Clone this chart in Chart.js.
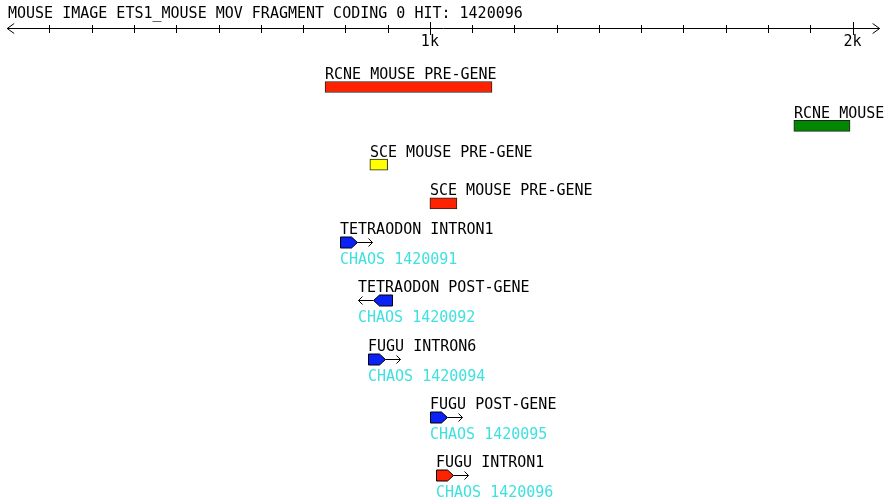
<!DOCTYPE html>
<html>
<head>
<meta charset="utf-8">
<script src="https://cdn.jsdelivr.net/npm/chart.js@4/dist/chart.umd.min.js"></script>
<style>
    body { margin: 0; background: #fff; }
    canvas { display: block; }
</style>
</head>
<body>
<canvas id="map" width="894" height="504"></canvas>
<script>
// Title of the map
const title = 'MOUSE IMAGE ETS1_MOUSE MOV FRAGMENT CODING 0 HIT: 1420096';

const featureNames = ['RCNE MOUSE PRE-GENE', 'RCNE MOUSE PRE-GENE', 'SCE MOUSE PRE-GENE', 'SCE MOUSE PRE-GENE',
    'TETRAODON INTRON1', 'TETRAODON POST-GENE', 'FUGU INTRON6', 'FUGU POST-GENE', 'FUGU INTRON1'];
const featureStarts = [752, 1861, 858, 1000, 787, 865, 854, 1000, 1014];
const featureEnds = [1147, 1994, 900, 1064, 828, 910, 894, 1040, 1055];
// 0 = plain box, 1 = forward hit, -1 = reverse hit
const featureStrands = [0, 0, 0, 0, 1, -1, 1, 1, 1];
const hitLabels = ['', '', '', '', 'CHAOS 1420091', 'CHAOS 1420092', 'CHAOS 1420094', 'CHAOS 1420095', 'CHAOS 1420096'];
const featureColors = ['#ff2200', '#008800', '#ffff00', '#ff2200', '#0a22f5', '#0a22f5', '#0a22f5', '#0a22f5', '#ff2200'];

// Ruler
const axisStart = 0;
const axisEnd = 2064;
const tickValues = [100, 200, 300, 400, 500, 600, 700, 800, 900, 1000,
    1100, 1200, 1300, 1400, 1500, 1600, 1700, 1800, 1900, 2000];
const majorTickValues = [1000, 2000];
const majorTickLabels = ['1k', '2k'];

const FONT = '15px "DejaVu Sans Mono", "Liberation Mono", monospace';
const HIT_TEXT = '#40e0e0';

// Stack the tracks: hits take an extra text line
const lanes = [];
let lane = 0;
featureNames.forEach((name, i) => {
    lanes.push(lane);
    lane += hitLabels[i] ? 3 : 2;
});

const boxIdx = featureNames.map((n, i) => i).filter(i => featureStrands[i] === 0);

const mapPlugin = {
    id: 'geneMap',
    afterDatasetsDraw(chart) {
        const ctx = chart.ctx;
        const xs = chart.scales.x;
        const ys = chart.scales.y;
        ctx.save();
        ctx.font = FONT;
        ctx.textBaseline = 'alphabetic';

        // title
        ctx.fillStyle = '#000';
        ctx.textAlign = 'left';
        ctx.fillText(title, 8, 18);

        // ruler line with arrows
        const a0 = xs.getPixelForValue(axisStart);
        const a1 = xs.getPixelForValue(axisEnd);
        const ay = 28.5;
        ctx.strokeStyle = '#000';
        ctx.lineWidth = 1;
        ctx.beginPath();
        ctx.moveTo(a0, ay); ctx.lineTo(a1, ay);
        ctx.moveTo(a0 + 7, ay - 5); ctx.lineTo(a0, ay); ctx.lineTo(a0 + 7, ay + 5);
        ctx.moveTo(a1 - 7, ay - 5); ctx.lineTo(a1, ay); ctx.lineTo(a1 - 7, ay + 5);
        tickValues.forEach(v => {
            const px = Math.round(xs.getPixelForValue(v)) + 0.5;
            const major = majorTickValues.includes(v);
            ctx.moveTo(px, major ? 22 : 25);
            ctx.lineTo(px, major ? 35 : 33);
        });
        ctx.stroke();
        ctx.textAlign = 'center';
        majorTickValues.forEach((v, i) => {
            ctx.fillText(majorTickLabels[i], xs.getPixelForValue(v), 46);
        });

        // hit glyphs and all labels
        ctx.textAlign = 'left';
        featureNames.forEach((name, i) => {
            const cy = Math.round(ys.getPixelForValue(lanes[i])) + 0.5;
            const x0 = Math.round(xs.getPixelForValue(featureStarts[i])) + 0.5;
            const x1 = Math.round(xs.getPixelForValue(featureEnds[i])) + 0.5;
            const strand = featureStrands[i];
            let left = x0;
            if (strand !== 0) {
                const h = 5.5, pt = 6, arr = 15;
                ctx.beginPath();
                if (strand > 0) {
                    ctx.moveTo(x0, cy - h); ctx.lineTo(x1 - pt, cy - h); ctx.lineTo(x1, cy);
                    ctx.lineTo(x1 - pt, cy + h); ctx.lineTo(x0, cy + h);
                } else {
                    ctx.moveTo(x1, cy - h); ctx.lineTo(x0 + pt, cy - h); ctx.lineTo(x0, cy);
                    ctx.lineTo(x0 + pt, cy + h); ctx.lineTo(x1, cy + h);
                }
                ctx.closePath();
                ctx.fillStyle = featureColors[i];
                ctx.fill();
                ctx.strokeStyle = '#000';
                ctx.stroke();
                ctx.beginPath();
                if (strand > 0) {
                    ctx.moveTo(x1, cy); ctx.lineTo(x1 + arr, cy);
                    ctx.moveTo(x1 + arr - 4, cy - 4); ctx.lineTo(x1 + arr, cy); ctx.lineTo(x1 + arr - 4, cy + 4);
                } else {
                    left = x0 - arr;
                    ctx.moveTo(x0, cy); ctx.lineTo(x0 - arr, cy);
                    ctx.moveTo(x0 - arr + 4, cy - 4); ctx.lineTo(x0 - arr, cy); ctx.lineTo(x0 - arr + 4, cy + 4);
                }
                ctx.stroke();
            }
            ctx.fillStyle = '#000';
            ctx.fillText(name, Math.floor(left), cy - 9);
            if (hitLabels[i]) {
                ctx.fillStyle = HIT_TEXT;
                ctx.fillText(hitLabels[i], Math.floor(left), cy + 21);
            }
        });
        ctx.restore();
    }
};

new Chart(document.getElementById('map'), {
    type: 'bar',
    data: {
        datasets: [{
            data: boxIdx.map(i => ({ x: [featureStarts[i], featureEnds[i]], y: lanes[i] })),
            backgroundColor: boxIdx.map(i => featureColors[i]),
            borderColor: '#222',
            borderWidth: 1,
            borderSkipped: false,
            barThickness: 11
        }]
    },
    options: {
        indexAxis: 'y',
        responsive: false,
        animation: false,
        layout: { padding: 0 },
        plugins: { legend: { display: false }, tooltip: { enabled: false } },
        scales: {
            x: { type: 'linear', min: -17, max: 2098, display: false },
            y: { type: 'linear', min: -4.485, max: 21.495, reverse: true, offset: false, display: false }
        }
    },
    plugins: [mapPlugin]
});
</script>
</body>
</html>
